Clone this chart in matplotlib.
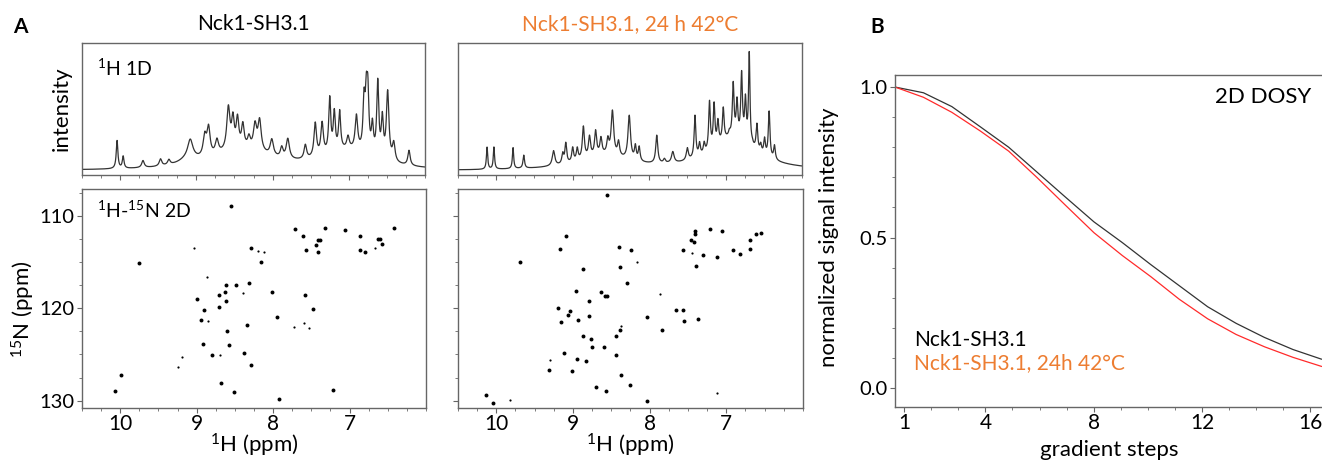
import numpy as np
import matplotlib
matplotlib.use("Agg")
import matplotlib.pyplot as plt
from matplotlib.ticker import MultipleLocator, FixedLocator

plt.rcParams['font.family'] = ['Lato', 'DejaVu Sans']
plt.rcParams['mathtext.fontset'] = 'custom'
plt.rcParams['mathtext.rm'] = 'Lato'
plt.rcParams['mathtext.it'] = 'Lato:italic'
plt.rcParams['mathtext.bf'] = 'Lato:bold'

# ====================
# DATA
# ====================
# 1H 1D, native (ppm, height, half width)
native_1d_ppm = [10.04, 9.96, 9.70, 9.47, 9.36, 9.08, 8.89, 8.84, 8.73, 8.58, 8.52, 8.46,
                 8.39, 8.31, 8.23, 8.17, 8.01, 7.88, 7.80, 7.57, 7.44, 7.35, 7.25, 7.19,
                 7.12, 7.01, 6.90, 6.80, 6.77, 6.75, 6.69, 6.62, 6.56, 6.49, 6.41, 6.21,
                 8.4, 7.0, 9.1]
native_1d_height = [28, 12, 7, 7, 5, 18, 20, 28, 14, 42, 28, 28,
                    22, 10, 24, 30, 16, 10, 20, 14, 34, 32, 54, 38,
                    38, 12, 34, 48, 48, 54, 28, 74, 38, 68, 18, 15,
                    20, 18, 6]
native_1d_width = [0.013, 0.013, 0.02, 0.02, 0.02, 0.04, 0.025, 0.025, 0.025, 0.025, 0.02, 0.02,
                   0.02, 0.02, 0.025, 0.025, 0.025, 0.02, 0.025, 0.02, 0.02, 0.02, 0.016, 0.016,
                   0.016, 0.02, 0.02, 0.016, 0.016, 0.016, 0.016, 0.016, 0.016, 0.02, 0.02, 0.018,
                   0.45, 0.4, 0.15]

# 1H 1D, after 24 h at 42 C
heated_1d_ppm = [10.12, 10.03, 9.78, 9.64, 9.25, 9.13, 9.09, 9.00, 8.94, 8.86, 8.78, 8.70,
                 8.63, 8.54, 8.48, 8.40, 8.26, 8.18, 8.13, 7.90, 7.80, 7.69, 7.50, 7.40,
                 7.34, 7.28, 7.21, 7.15, 7.10, 7.03, 6.95, 6.90, 6.85, 6.79, 6.74, 6.69,
                 6.65, 6.59, 6.54, 6.49, 6.43, 6.36, 8.6, 6.9]
heated_1d_height = [22, 22, 21, 13, 15, 10, 20, 14, 12, 32, 20, 24,
                    16, 14, 44, 14, 44, 14, 14, 28, 4, 11, 12, 42,
                    12, 10, 48, 42, 22, 32, 4, 52, 34, 64, 40, 90,
                    2, 26, 8, 16, 46, 14, 14, 32]
heated_1d_width = [0.01, 0.01, 0.01, 0.012, 0.02, 0.014, 0.014, 0.014, 0.014, 0.016, 0.016, 0.016,
                   0.016, 0.016, 0.02, 0.016, 0.02, 0.014, 0.014, 0.016, 0.016, 0.02, 0.016, 0.013,
                   0.013, 0.013, 0.013, 0.013, 0.013, 0.013, 0.013, 0.013, 0.013, 0.013, 0.013, 0.011,
                   0.013, 0.013, 0.013, 0.013, 0.013, 0.013, 0.4, 0.35]

# 1H-15N 2D peaks, native (1 = weak, 2 = normal)
native_2d_h = [8.553, 7.709, 7.603, 7.564, 7.445, 7.419, 7.388, 7.410, 7.322, 7.058, 6.869, 6.869,
               6.794, 6.671, 6.627, 6.605, 6.574, 6.420, 8.285, 8.201, 8.113, 8.157, 9.754, 9.037,
               8.870, 8.615, 8.487, 8.311, 8.395, 8.012, 8.993, 8.632, 8.703, 8.619, 8.703, 8.905,
               7.586, 7.476, 7.946, 8.949, 8.848, 8.342, 7.727, 7.595, 7.533, 8.597, 8.923, 8.571,
               8.804, 8.694, 9.186, 9.239, 8.386, 8.289, 9.991, 8.676, 10.066, 8.509, 7.221, 7.929]
native_2d_n = [108.98, 111.39, 112.19, 113.66, 113.11, 112.63, 112.63, 113.95, 111.35, 111.54, 112.19, 113.66,
               113.95, 113.47, 112.56, 112.56, 113.03, 111.35, 113.47, 113.84, 113.95, 114.97, 115.12, 113.47,
               116.65, 117.53, 117.53, 117.31, 118.34, 118.30, 118.96, 118.26, 118.59, 119.25, 119.87, 120.16,
               118.56, 120.05, 120.93, 121.33, 121.41, 121.77, 121.99, 121.59, 122.14, 122.50, 123.86, 124.00,
               125.10, 125.10, 125.25, 126.34, 124.88, 126.16, 127.22, 128.14, 128.98, 129.12, 128.90, 129.85]
native_2d_int = [2, 2, 2, 2, 2, 2, 2, 2, 2, 2, 2, 2,
                 2, 1, 2, 2, 2, 2, 2, 1, 1, 2, 2, 1,
                 1, 2, 2, 2, 1, 2, 2, 2, 2, 2, 2, 2,
                 2, 2, 2, 2, 1, 2, 1, 1, 1, 2, 2, 2,
                 2, 1, 1, 1, 2, 2, 2, 2, 2, 2, 2, 2]

# 1H-15N 2D peaks, after 24 h at 42 C
heated_2d_h = [8.554, 9.085, 9.167, 9.689, 8.403, 8.239, 8.382, 8.166, 8.869, 8.291, 8.964, 8.640,
               8.589, 8.563, 8.787, 7.864, 9.202, 9.038, 9.068, 9.154, 8.938, 8.787, 8.032, 7.656,
               7.570, 7.557, 7.367, 7.842, 8.369, 8.386, 8.433, 8.865, 8.766, 8.748, 8.593, 8.442,
               9.115, 8.943, 8.826, 9.301, 9.318, 9.007, 8.369, 8.701, 8.576, 8.256, 10.138, 10.043,
               9.823, 8.032, 7.117, 7.208, 7.057, 7.410, 7.406, 7.467, 7.428, 7.561, 7.445, 7.303,
               7.126, 7.393, 6.914, 6.828, 6.694, 6.694, 6.608, 6.543]
heated_2d_n = [107.79, 112.14, 113.61, 115.05, 113.39, 113.68, 115.49, 114.97, 115.71, 117.29, 118.18, 118.29,
               118.73, 118.66, 119.17, 118.47, 120.02, 120.28, 120.76, 121.46, 121.31, 120.79, 120.90, 120.17,
               120.24, 121.38, 121.20, 122.41, 121.90, 122.34, 122.97, 122.97, 123.37, 124.18, 124.18, 125.06,
               124.88, 125.51, 125.69, 125.62, 126.65, 126.83, 127.20, 128.49, 128.97, 128.31, 129.34, 130.22,
               129.96, 130.07, 129.19, 111.47, 111.62, 111.66, 111.95, 112.65, 112.84, 113.68, 113.98, 114.27,
               114.42, 115.45, 113.68, 114.16, 112.65, 113.61, 111.92, 111.84]
heated_2d_int = [2, 2, 2, 2, 2, 2, 2, 1, 2, 2, 2, 2,
                 2, 2, 2, 1, 2, 2, 2, 2, 2, 2, 2, 2,
                 2, 2, 2, 2, 1, 2, 2, 2, 2, 2, 2, 2,
                 2, 2, 2, 1, 2, 2, 2, 2, 2, 2, 2, 2,
                 1, 2, 1, 2, 2, 2, 2, 2, 2, 2, 1, 2,
                 2, 2, 2, 2, 2, 2, 2, 2]

# 2D DOSY decay
dosy_steps = [0.66, 1.71, 2.76, 3.81, 4.86, 5.91, 6.96, 8.01, 9.06, 10.11, 11.16, 12.21,
              13.26, 14.31, 15.36, 16.41]
dosy_native = [1.0, 0.981, 0.935, 0.868, 0.80, 0.717, 0.634, 0.552, 0.483, 0.41, 0.34, 0.27,
               0.215, 0.168, 0.128, 0.096]
dosy_heated = [1.0, 0.966, 0.916, 0.854, 0.787, 0.699, 0.607, 0.516, 0.44, 0.37, 0.295, 0.23,
               0.178, 0.137, 0.102, 0.072]

label_native = 'Nck1-SH3.1'
label_heated = 'Nck1-SH3.1, 24 h 42°C'
label_heated_b = 'Nck1-SH3.1, 24h 42°C'

ORANGE = '#ed7d31'
SPINE = '#666666'
W, H = 1322, 462


def rect(x0, y0, x1, y1):
    # pixel box -> figure fraction
    return [x0 / W, 1 - y1 / H, (x1 - x0) / W, (y1 - y0) / H]


def spectrum(grid, pos, height, width):
    y = np.zeros_like(grid)
    for p, h, w in zip(pos, height, width):
        y += h / (1 + ((grid - p) / w) ** 2)
    return y


def style_axes(ax):
    for s in ax.spines.values():
        s.set_color(SPINE)
        s.set_linewidth(1.0)
    ax.tick_params(which='both', direction='out', color=SPINE, pad=2)
    ax.tick_params(which='major', length=3.5)
    ax.tick_params(which='minor', length=2.5)


fig = plt.figure(figsize=(W / 100, H / 100), dpi=100)

grid = np.linspace(10.7, 5.8, 6000)
xlim = (10.5, 6.0)

panels = [
    (82, 425, native_1d_ppm, native_1d_height, native_1d_width,
     native_2d_h, native_2d_n, native_2d_int, label_native, 'black'),
    (458, 802, heated_1d_ppm, heated_1d_height, heated_1d_width,
     heated_2d_h, heated_2d_n, heated_2d_int, label_heated, ORANGE),
]

for i, (x0, x1, p1, h1, w1, hh, nn, ii, title, tcol) in enumerate(panels):
    # 1D
    ax1 = fig.add_axes(rect(x0, 43, x1, 175))
    style_axes(ax1)
    ax1.plot(grid, spectrum(grid, p1, h1, w1), color='#333333', lw=0.9)
    ax1.set_xlim(*xlim)
    ax1.set_ylim(-4.3, 127.7)
    ax1.xaxis.set_major_locator(FixedLocator([10, 9, 8, 7]))
    ax1.xaxis.set_minor_locator(MultipleLocator(0.25))
    ax1.set_xticklabels([])
    ax1.set_yticks([])
    ax1.set_title(title, color=tcol, fontsize=15, pad=9)
    if i == 0:
        ax1.set_ylabel('intensity', fontsize=16)
        ax1.yaxis.set_label_coords(-0.03, 0.5)
        ax1.text(0.044, 0.81, r'$^{1}$H 1D', transform=ax1.transAxes,
                 fontsize=14, va='center')

    # 2D
    ax2 = fig.add_axes(rect(x0, 189, x1 + 1, 408))
    style_axes(ax2)
    hh = np.array(hh)
    nn = np.array(nn)
    ii = np.array(ii)
    ax2.scatter(hh[ii == 2], nn[ii == 2], s=8, color='black', lw=0)
    ax2.scatter(hh[ii == 1], nn[ii == 1], s=2.5, color='black', lw=0)
    ax2.set_xlim(*xlim)
    ax2.set_ylim(130.8, 107.1)
    ax2.xaxis.set_major_locator(FixedLocator([10, 9, 8, 7]))
    ax2.xaxis.set_minor_locator(MultipleLocator(0.25))
    ax2.yaxis.set_major_locator(MultipleLocator(10))
    ax2.yaxis.set_minor_locator(MultipleLocator(2.5))
    ax2.tick_params(axis='x', labelsize=15, pad=1)
    ax2.tick_params(axis='y', labelsize=14.5)
    ax2.set_xlabel(r'$^{1}$H (ppm)', fontsize=16)
    ax2.xaxis.set_label_coords(0.5, -0.108)
    if i == 0:
        ax2.set_ylabel(r'$^{15}$N (ppm)', fontsize=16)
        ax2.yaxis.set_label_coords(-0.131, 0.45)
        ax2.text(0.044, 0.904, r'$^{1}$H-$^{15}$N 2D', transform=ax2.transAxes,
                 fontsize=14, va='center')
    else:
        ax2.set_yticklabels([])

fig.text(20 / W, 1 - 27 / H, 'A', fontsize=15, fontweight='bold', ha='center', va='center')
fig.text(877 / W, 1 - 27 / H, 'B', fontsize=15, fontweight='bold', ha='center', va='center')

# Panel B
axb = fig.add_axes(rect(895, 75, 1323, 407))
style_axes(axb)
axb.plot(dosy_steps, dosy_native, color='#333333', lw=0.9)
axb.plot(dosy_steps, dosy_heated, color='#ff2a2a', lw=0.9)
axb.set_xlim(0.66, 16.47)
axb.set_ylim(-0.063, 1.04)
axb.xaxis.set_major_locator(FixedLocator([1, 4, 8, 12, 16]))
axb.xaxis.set_minor_locator(MultipleLocator(1))
axb.yaxis.set_major_locator(FixedLocator([0.0, 0.5, 1.0]))
axb.yaxis.set_minor_locator(MultipleLocator(0.1))
axb.set_yticklabels(['0.0', '0.5', '1.0'])
axb.tick_params(axis='x', labelsize=15, pad=1)
axb.tick_params(axis='y', labelsize=14.5)
axb.set_xlabel('gradient steps', fontsize=16)
axb.xaxis.set_label_coords(0.5, -0.1)
axb.set_ylabel('normalized signal intensity', fontsize=16)
axb.yaxis.set_label_coords(-0.13, 0.51)
axb.text(0.972, 0.934, '2D DOSY', transform=axb.transAxes, fontsize=16,
         ha='right', va='center')
axb.text(0.045, 0.202, label_native, transform=axb.transAxes, fontsize=15,
         ha='left', va='center', color='black')
axb.text(0.045, 0.1325, label_heated_b, transform=axb.transAxes, fontsize=15,
         ha='left', va='center', color=ORANGE)

fig.savefig('out.png', dpi=100)
